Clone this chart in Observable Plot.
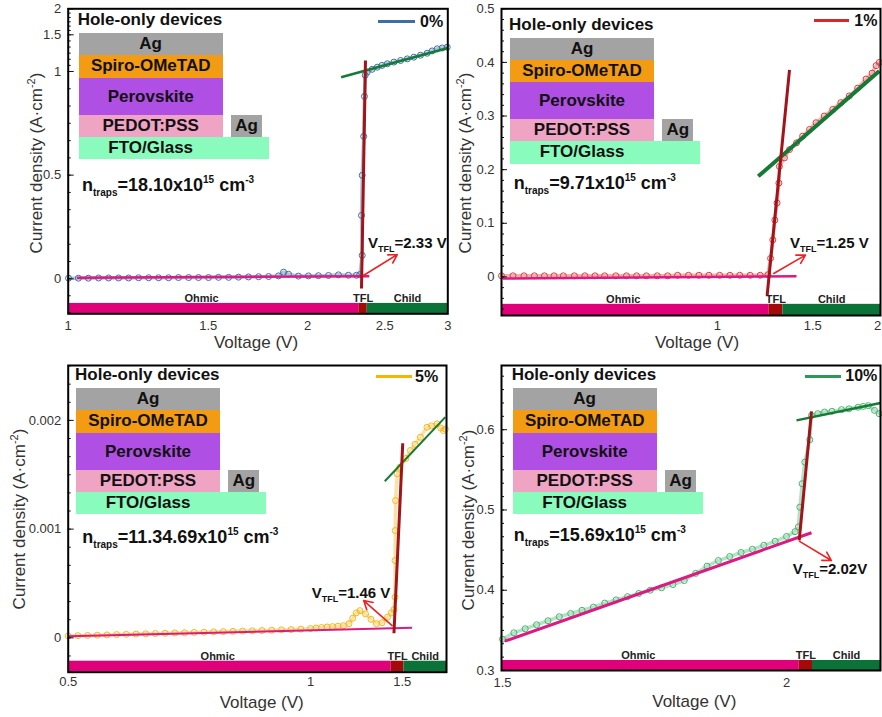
<!DOCTYPE html>
<html><head><meta charset="utf-8">
<script src="https://cdn.jsdelivr.net/npm/d3@7"></script>
<script src="https://cdn.jsdelivr.net/npm/@observablehq/plot@0.6"></script>
<style>
body{margin:0;background:#fff;}
#root{position:relative;width:882px;height:717px;overflow:hidden;font-family:"Liberation Sans",Arial,sans-serif;background:#fff;}
.abs{position:absolute;white-space:nowrap;}
.box{position:absolute;box-sizing:border-box;}
.lbl{position:absolute;text-align:center;font-weight:bold;font-size:17px;color:#111;white-space:nowrap;}
.sub{font-size:10px;position:relative;top:5px;}
.sup{font-size:10px;position:relative;top:-8px;}
.ax{position:absolute;font-size:17px;line-height:17px;color:#333;white-space:nowrap;transform:translate(-50%,-50%);}
.axy{position:absolute;font-size:17px;line-height:17px;color:#333;white-space:nowrap;transform:translate(-50%,-50%) rotate(-90deg);}
.axy .s2{font-size:11px;position:relative;top:-7px;}
</style></head>
<body><div id="root"></div>
<script>
// ---------- data: 0% ----------
const v0 = [1.001,1.030,1.060,1.092,1.124,1.157,1.191,1.226,1.262,1.299,1.337,1.376,1.417,1.458,1.501,1.545,1.591,1.637,1.685,1.735,1.786,1.838,1.865,1.892,1.947,2.004,2.063,2.124,2.186,2.250,2.303,2.325,
  2.342,2.337,2.342,2.352,2.357,2.362,
  2.376,2.41,2.446,2.48,2.518,2.567,2.617,2.668,2.719,2.772,2.826,2.867,2.909,2.952,2.995];
const j0 = [0.003,0.003,0.003,0.004,0.004,0.004,0.004,0.005,0.005,0.005,0.005,0.006,0.006,0.006,0.006,0.007,0.007,0.008,0.009,0.010,0.011,0.014,0.032,0.022,0.013,0.014,0.015,0.016,0.019,0.017,0.017,0.02,
  0.113,0.306,0.499,0.687,0.880,0.982,
  0.997,1.03,1.059,1.083,1.105,1.128,1.150,1.172,1.195,1.222,1.249,1.28,1.309,1.32,1.331];
const fitOhmic0 = [[1.026,0.005],[2.39,0.0126]];
const fitTFL0 = [[2.337,-0.048],[2.364,1.15]];
const fitChild0 = [[2.203,0.972],[3.0,1.32]];
const arrow0 = [[2.35,0.016],[2.592,0.117]];
const regions0 = [1, 2.319, 2.376, 3];
const xTicks0 = [1, 1.5, 2, 2.5, 3];
const yTicks0 = [0, 0.5, 1, 1.5, 2];

// ---------- data: 1% ----------
const v1 = [0.40,0.42,0.44,0.46,0.48,0.50,0.52,0.545,0.57,0.595,0.62,0.65,0.68,0.71,0.74,0.775,0.81,0.845,0.885,0.925,0.965,1.01,1.055,1.10,1.15,1.20,1.24,
  1.254,1.266,1.277,1.289,1.299,
  1.302,1.33,1.359,1.40,1.437,1.48,1.521,1.575,1.633,1.69,1.752,1.815,1.881,1.93,1.963,1.99];
const j1 = [0.002,0.002,0.002,0.002,0.002,0.002,0.002,0.002,0.002,0.002,0.002,0.002,0.002,0.002,0.002,0.002,0.002,0.003,0.003,0.003,0.003,0.003,0.003,0.003,0.003,0.003,0.004,
  0.0345,0.069,0.106,0.138,0.175,
  0.206,0.222,0.2375,0.25,0.2625,0.275,0.2875,0.30,0.3125,0.325,0.3375,0.352,0.369,0.38,0.394,0.40];
const fitOhmic1 = [[0.402,-0.003],[1.40,0.001]];
const fitTFL1 = [[1.236,-0.034],[1.359,0.386]];
const fitChild1 = [[1.19,0.1875],[1.99,0.384]];
const arrow1 = [[1.271,0.0064],[1.454,0.0407]];
const regions1 = [0.4, 1.245, 1.321, 2];
const xTicks1 = [1, 1.5, 2];
const yTicks1 = [0, 0.1, 0.2, 0.3, 0.4, 0.5];

// ---------- data: 5% ----------
const v5 = [0.50,0.52,0.54,0.56,0.58,0.60,0.62,0.64,0.66,0.68,0.70,0.72,0.74,0.76,0.78,0.80,0.82,0.84,0.86,0.88,0.90,0.92,0.94,0.96,0.98,1.00,
  1.03,1.06,1.09,1.12,1.15,1.18,1.21,1.23,1.25,1.27,1.30,1.33,1.36,1.39,1.42,1.44,1.455,
  1.461,1.461,1.462,1.4635,1.473,
  1.4875,1.52,1.545,1.57,1.599,1.635,1.66,1.69,1.71,1.725,1.735];
const j5 = [0.000018,0.00002,0.000022,0.000025,0.000027,0.00003,0.000032,0.000035,0.000037,0.00004,0.000042,0.000045,0.000047,0.00005,0.000052,0.000055,0.000057,0.00006,0.000062,0.000065,0.000067,0.00007,0.000073,0.000076,0.00008,0.000085,
  0.00009,0.000095,0.0001,0.000103,0.000107,0.000112,0.00013,0.00018,0.00023,0.00025,0.00022,0.00017,0.00013,0.00014,0.00019,0.00023,0.00026,
  0.000374,0.000711,0.000987,0.001263,0.001509,
  0.00157,0.00165,0.001723,0.00178,0.001845,0.001937,0.00195,0.001968,0.00193,0.001907,0.00192];
const fitOhmic5 = [[0.501,0.0000147],[1.554,0.000092]];
const fitTFL5 = [[1.455,0.0000423],[1.503,0.00179]];
const fitChild5 = [[1.405,0.00144],[1.735,0.00203]];
const arrow5 = [[1.445,0.000113],[1.29,0.000343]];
const regions5 = [0.5, 1.44, 1.509, 1.7416];
const xTicks5 = [0.5, 1, 1.5];
const yTicks5 = [0, 0.001, 0.002];

// ---------- data: 10% ----------
const v10 = [1.50,1.52,1.54,1.56,1.58,1.60,1.62,1.64,1.66,1.68,1.70,1.72,1.74,1.76,1.78,1.80,1.82,1.84,1.86,1.88,1.90,1.92,1.94,1.96,1.98,2.00,2.015,2.021,
  2.0235,2.0276,2.0322,2.041,
  2.044,2.055,2.067,2.08,2.097,2.11,2.126,2.135,2.144,2.155,2.163];
const j10 = [0.339,0.347,0.352,0.357,0.362,0.367,0.371,0.375,0.379,0.384,0.388,0.392,0.396,0.400,0.403,0.407,0.412,0.421,0.430,0.437,0.442,0.447,0.451,0.456,0.461,0.467,0.473,0.479,
  0.5035,0.5327,0.5596,0.5875,
  0.6178,0.620,0.622,0.623,0.625,0.626,0.628,0.629,0.630,0.624,0.620];
const fitOhmic10 = [[1.504,0.3365],[2.044,0.4716]];
const fitTFL10 = [[2.0224,0.462],[2.044,0.6228]];
const fitChild10 = [[2.0176,0.6116],[2.1655,0.6332]];
const arrow10 = [[2.023,0.4608],[2.079,0.437]];
const regions10 = [1.4982, 2.0224, 2.0458, 2.1655];
const xTicks10 = [1.5, 2];
const yTicks10 = [0.3, 0.4, 0.5, 0.6];

// ---------- text ----------
const seriesNames = ["0%", "1%", "5%", "10%"];
const ntraps = ["18.10", "9.71", "11.34.69", "15.69"];
const vtfl = ["2.33 V", "1.25 V", "1.46 V", "2.02V"];
const regionNames = ["Ohmic", "TFL", "Child"];
const stackNames = ["Ag", "Spiro-OMeTAD", "Perovskite", "PEDOT:PSS", "FTO/Glass"];

// ---------- styling ----------
const seriesColors = ["#3d6fa3", "#e03a3a", "#f5b71c", "#45b46e"];
const legendColors = ["#3d6fa3", "#d62828", "#f7b500", "#2a9a55"];
const fitColors = ["#dc1a83", "#a0141a", "#157a35"];
const barColors = ["#e0007a", "#a50a0a", "#0b7337"];
const stackColors = ["#a3a3a3", "#f39b12", "#b04fe4", "#f0a4c4", "#89fbbd"];
const FONT = "'Liberation Sans', Arial, sans-serif";

function minor(lo, hi, step) {
  const out = [];
  for (let k = Math.ceil(lo / step - 1e-9); k * step <= hi + 1e-12; k++) out.push(+(k * step).toFixed(8));
  return out;
}

const panels = [
  {left:0, top:0, width:450, height:350, m:[67.7,2.7,8.3,36.7],
   x:{type:"log", domain:[1,3], range:[67.7,447.3]},
   y:{type:"linear", domain:[-0.172,0,1,1.5,2], range:[313.3,278.3,71,34.3,8.3]},
   v:v0, j:j0, fits:[fitOhmic0, fitTFL0, fitChild0], fitW:[2.5,3,2.5], arrow:arrow0, regions:regions0, barTop:-0.121,
   xTicks:xTicks0, yTicks:yTicks0, yMinor:minor(-0.17,2,0.5/6), xPad:7},
  {left:450, top:0, width:432, height:350, m:[51,2,8.3,35],
   x:{type:"log", domain:[0.4,2], range:[51,430]},
   y:{type:"linear", domain:[-0.072,0.5], range:[315,8.3]},
   v:v1, j:j1, fits:[fitOhmic1, fitTFL1, fitChild1], fitW:[2.5,3,4], arrow:arrow1, regions:regions1, barTop:-0.0512,
   xTicks:xTicks1, yTicks:yTicks1, yMinor:minor(-0.07,0.5,0.02), xPad:5, edgeTick:2},
  {left:0, top:350, width:450, height:367, m:[67.7,4,15,45.3],
   x:{type:"linear", domain:[0.5,1,1.5,1.7416], range:[67.7,310,401.7,446]},
   y:{type:"linear", domain:[-0.000316,0.002505], range:[321.7,15]},
   v:v5, j:j5, fits:[fitOhmic5, fitTFL5, fitChild5], fitW:[2,3,2], arrow:arrow5, regions:regions5, barTop:-0.000215,
   xTicks:xTicks5, yTicks:yTicks5, yMinor:minor(-0.0003,0.0025,0.001/6), xPad:5},
  {left:450, top:350, width:432, height:367, m:[51,2,15,47],
   x:{type:"linear", domain:[1.4982,2.1655], range:[51,430]},
   y:{type:"linear", domain:[0.3,0.68], range:[320,15]},
   v:v10, j:j10, fits:[fitOhmic10, fitTFL10, fitChild10], fitW:[3,3,2.5], arrow:arrow10, regions:regions10, barTop:0.3125,
   xTicks:xTicks10, yTicks:yTicks10, yMinor:minor(0.3,0.68,0.1/6), xPad:7}
];

const root = document.getElementById("root");

function buildPanel(P, idx) {
  const n = Math.min(P.v.length, P.j.length);
  const pts = d3.range(n).map(i => ({V: P.v[i], J: P.j[i]}));
  const sx = (P.x.type === "log" ? d3.scaleLog() : d3.scaleLinear()).domain(P.x.domain).range(P.x.range);
  const yMin = P.y.domain[0];
  const marks = [];
  regionNames.forEach((name, i) => {
    const r = {x1: P.regions[i], x2: P.regions[i+1], xm: sx.invert((sx(P.regions[i]) + sx(P.regions[i+1])) / 2), name};
    marks.push(Plot.rect([r], {x1: "x1", x2: "x2", y1: () => P.barTop, y2: () => yMin, fill: barColors[i]}));
    marks.push(Plot.text([r], {x: "xm", y: () => P.barTop, text: "name", lineAnchor: "bottom", dy: -1, dx: i === 0 ? -12 : 0,
      fontSize: 11, fontWeight: "bold", fill: "#222"}));
  });
  marks.push(Plot.line(pts, {x: "V", y: "J", stroke: seriesColors[idx], strokeWidth: 3.5, strokeOpacity: 0.4}));
  marks.push(Plot.dot(pts, {x: "V", y: "J", r: 3, stroke: seriesColors[idx], strokeWidth: 1, fill: "none"}));
  const order = [0, 2, 1];
  order.forEach(k => {
    const f = P.fits[k];
    marks.push(Plot.link([f], {x1: d => d[0][0], y1: d => d[0][1], x2: d => d[1][0], y2: d => d[1][1],
      stroke: fitColors[k], strokeWidth: P.fitW[k]}));
  });
  marks.push(Plot.arrow([P.arrow], {x1: d => d[0][0], y1: d => d[0][1], x2: d => d[1][0], y2: d => d[1][1],
    stroke: "#ee2222", strokeWidth: 1.6, headLength: 9}));
  const inner = P.xTicks.filter(t => t !== P.edgeTick);
  marks.push(Plot.axisX(inner, {anchor: "bottom", tickSize: 0, tickPadding: P.xPad, tickFormat: d => String(d), label: null, fontSize: 13, fill: "#333"}));
  if (P.edgeTick !== undefined) {
    marks.push(Plot.axisX([P.edgeTick], {anchor: "bottom", tickSize: 0, tickPadding: P.xPad, tickFormat: d => String(d), label: null, fontSize: 13, fill: "#333", dx: -3}));
  }
  marks.push(Plot.axisY(P.yMinor, {anchor: "left", tickSize: -3, fill: "none", label: null, stroke: "#111"}));
  marks.push(Plot.axisY(P.yTicks, {anchor: "left", tickSize: -6, tickPadding: 13, tickFormat: d => String(d), label: null, fontSize: 13, fill: "#333", stroke: "#111"}));
  marks.push(Plot.frame({stroke: "#000", strokeWidth: 2}));
  const svg = Plot.plot({
    width: P.width, height: P.height,
    marginLeft: P.m[0], marginRight: P.m[1], marginTop: P.m[2], marginBottom: P.m[3],
    x: {...P.x}, y: {...P.y},
    style: {background: "transparent", fontFamily: FONT, fontSize: "13px", color: "#222", overflow: "visible"},
    marks
  });
  svg.style.position = "absolute";
  svg.style.left = P.left + "px";
  svg.style.top = P.top + "px";
  root.appendChild(svg);
}
panels.forEach(buildPanel);

// ---------- overlays (inset diagrams, annotations, legends, axis titles) ----------
function el(cls, css, html) {
  const d = document.createElement("div");
  d.className = cls;
  Object.assign(d.style, css);
  if (html !== undefined) d.innerHTML = html;
  root.appendChild(d);
  return d;
}
const rowEdges = [0, 22, 44.5, 81.5, 103.5, 126];
function drawStack(ox, oy) {
  el("lbl", {left: (ox - 1) + "px", top: (oy - 23) + "px", lineHeight: "20px", textAlign: "left"}, "Hole-only devices");
  stackNames.forEach((name, i) => {
    const t = oy + rowEdges[i], h = rowEdges[i+1] - rowEdges[i];
    const w = i === 4 ? 190 : 144;
    el("box", {left: ox + "px", top: t + "px", width: w + "px", height: h + "px", background: stackColors[i]});
    el("lbl", {left: ox + "px", top: t + "px", width: "144px", height: h + "px", lineHeight: h + "px"}, name);
  });
  const t = oy + rowEdges[3], h = rowEdges[4] - rowEdges[3];
  el("box", {left: (ox + 152.3) + "px", top: t + "px", width: "31px", height: h + "px", background: stackColors[0]});
  el("lbl", {left: (ox + 152.3) + "px", top: t + "px", width: "31px", height: h + "px", lineHeight: h + "px"}, stackNames[0]);
}
const stackPos = [[78.7, 33.3], [510, 37.7], [76, 388.3], [512.7, 388.3]];
stackPos.forEach(p => drawStack(p[0], p[1]));

const ntrapPos = [[82, 185], [513.7, 183], [82.3, 536.7], [513.7, 535]];
ntrapPos.forEach((p, i) => {
  el("abs", {left: p[0] + "px", top: (p[1] - 11) + "px", lineHeight: "22px", fontSize: "18px", fontWeight: "bold", color: "#111"},
    `n<span class="sub">traps</span>=${ntraps[i]}x10<span class="sup">15</span> cm<span class="sup">-3</span>`);
});

const vtflPos = [[368, 243], [790, 243.3], [311.7, 593.3], [792.7, 569]];
vtflPos.forEach((p, i) => {
  el("abs", {left: p[0] + "px", top: (p[1] - 10) + "px", lineHeight: "20px", fontSize: "15px", fontWeight: "bold", color: "#111"},
    `V<span class="sub" style="font-size:9px;top:4px">TFL</span>=${vtfl[i]}`);
});

const legendPos = [[378, 415, 21.7, 420], [813.7, 849.3, 20.7, 854.3], [376, 411.7, 376.7, 415], [805, 841, 376, 845.3]];
legendPos.forEach((p, i) => {
  el("box", {left: p[0] + "px", top: (p[2] - 1.5) + "px", width: (p[1] - p[0]) + "px", height: "3px", background: legendColors[i]});
  el("abs", {left: p[3] + "px", top: (p[2] - 10) + "px", lineHeight: "20px", fontSize: "16px", fontWeight: "bold", color: "#111"}, seriesNames[i]);
});

const xTitlePos = [[256, 342], [697, 342], [261.7, 702], [694.3, 701]];
xTitlePos.forEach(p => el("ax", {left: p[0] + "px", top: p[1] + "px"}, "Voltage (V)"));
const yTitlePos = [[37, 163], [466, 163], [20, 519], [469.3, 520]];
yTitlePos.forEach(p => el("axy", {left: p[0] + "px", top: p[1] + "px"}, `Current density (A·cm<span class="s2">-2</span>)`));
</script>
</body></html>
